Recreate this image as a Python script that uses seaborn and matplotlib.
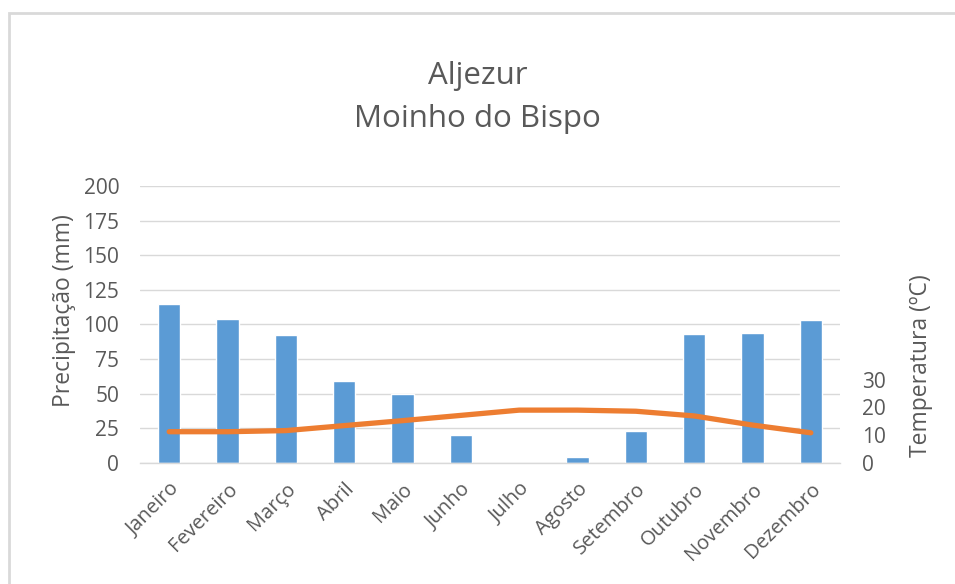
import matplotlib
matplotlib.use("Agg")
import matplotlib.pyplot as plt
from matplotlib.patches import Rectangle
import seaborn as sns
import pandas as pd

# dados
meses = ["Janeiro", "Fevereiro", "Março", "Abril", "Maio", "Junho",
         "Julho", "Agosto", "Setembro", "Outubro", "Novembro", "Dezembro"]
precipitacao = [115, 104, 92, 59, 50, 20, 0, 4, 23, 93, 94, 103]
temperatura = [11.2, 11.2, 11.6, 13.4, 15.2, 17.1, 19.0, 19.0, 18.6, 16.9, 13.6, 10.8]

AZUL = "#5b9bd5"
LARANJA = "#ed7d31"
CINZA_TXT = "#595959"
CINZA_LINHA = "#d9d9d9"

df = pd.DataFrame({"mes": meses, "prec": precipitacao, "temp": temperatura})

sns.set_theme(style="white")
plt.rcParams["font.family"] = ["Open Sans", "DejaVu Sans"]

fig = plt.figure(figsize=(9.55, 5.84), dpi=100)
ax = fig.add_axes([140 / 955, 1 - 462.7 / 584, 700 / 955, 276.7 / 584])

sns.barplot(data=df, x="mes", y="prec", color=AZUL, saturation=1, width=0.38, ax=ax)
ax.set_ylim(0, 200)
ax.set_yticks(range(0, 201, 25))
ax.set_xlim(-0.5, 11.5)
ax.grid(axis="y", color=CINZA_LINHA, linewidth=1)
ax.set_axisbelow(True)
for s in ["top", "left", "right"]:
    ax.spines[s].set_visible(False)
ax.spines["bottom"].set_color(CINZA_LINHA)
ax.spines["bottom"].set_linewidth(1)
ax.tick_params(axis="y", length=0, pad=15, labelsize=15, labelcolor=CINZA_TXT)
ax.tick_params(axis="x", length=0, pad=12, labelsize=14.5, labelcolor=CINZA_TXT)
ax.set_xlabel("")
ax.set_ylabel("Precipitação (mm)", fontsize=16.5, color=CINZA_TXT)
ax.yaxis.set_label_coords(-0.091, 0.55)

# eixo secundário - temperatura
ax2 = ax.twinx()
sns.pointplot(data=df, x="mes", y="temp", color=LARANJA, markers="", linewidth=3.8,
              errorbar=None, ax=ax2)
ax2.set_ylim(0, 100)
ax2.set_yticks([0, 10, 20, 30])
ax2.set_xlim(-0.5, 11.5)
for s in ["top", "left", "right", "bottom"]:
    ax2.spines[s].set_visible(False)
ax2.tick_params(axis="y", length=0, pad=16, labelsize=15, labelcolor=CINZA_TXT)
ax2.grid(False)
ax2.set_ylabel("Temperatura (ºC)", fontsize=16.5, color=CINZA_TXT)
ax2.yaxis.set_label_coords(1.098, 0.35)

ax.set_xticks(range(len(meses)))
ax.set_xticklabels(meses, rotation=45, ha="right", rotation_mode="anchor")

fig.text(0.5, 1 - 76 / 584, "Aljezur", ha="center", va="center", fontsize=22.5, color=CINZA_TXT)
fig.text(0.5, 1 - 119 / 584, "Moinho do Bispo", ha="center", va="center", fontsize=22.5, color=CINZA_TXT)

# moldura do gráfico (cortada à direita e em baixo)
fig.patches.append(Rectangle((8.5 / 955, -0.1), 1.2, 1.1 - 13.5 / 584, transform=fig.transFigure,
                             fill=False, edgecolor=CINZA_LINHA, linewidth=2))

fig.savefig("out.png", dpi=100)
